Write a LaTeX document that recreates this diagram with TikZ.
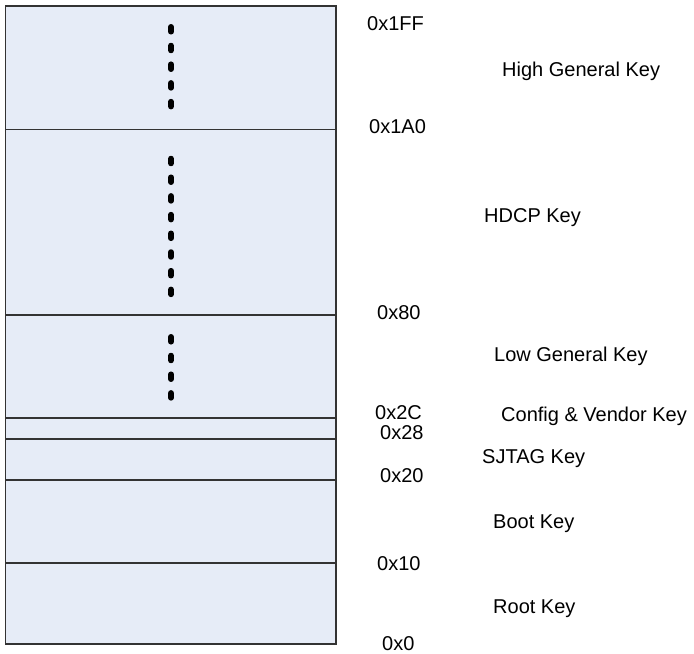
\documentclass[tikz,border=0pt]{standalone}
\usepackage{fontspec}
\setmainfont{Liberation Sans}
\usetikzlibrary{positioning}

\definecolor{regionFill}{HTML}{E6ECF7}
\definecolor{regionLine}{HTML}{333333}

\begin{document}
\begin{tikzpicture}[
  x=1bp, y=-1bp,
  addr/.style={font=\fontsize{20bp}{24bp}\selectfont, anchor=base west, inner sep=0pt},
  keyname/.style={font=\fontsize{20bp}{24bp}\selectfont, anchor=base west, inner sep=0pt},
  region/.style={draw=regionLine, line width=1.3bp, fill=regionFill},
  divider/.style={draw=regionLine, line width=1.3bp},
  dot/.style={fill=black, rounded corners=2.7bp}
]
\useasboundingbox (0,0) rectangle (694,654);

% Column anchors for the memory map.
\def\mapLeft{5.5}
\def\mapRight{336}
\def\dotCol{171}

% -----------------------------------------------------------------------------
% Memory map: one box, split by the key boundaries.
% -----------------------------------------------------------------------------
\draw[region] (\mapLeft,6) rectangle (\mapRight,644);
\foreach \ylev in {129.5,315,418,439,480,563}
  \draw[divider] (\mapLeft,\ylev) -- (\mapRight,\ylev);

% Ellipsis marks inside the large regions (first dot, count).
\foreach \ystart/\ncount in {29.3/5, 161/8, 339.3/4} {
  \pgfmathtruncatemacro{\nlast}{\ncount-1}
  \foreach \i in {0,...,\nlast}
    \fill[dot] ({\dotCol-2.9},{\ystart+18.7*\i-5.2}) rectangle ({\dotCol+2.9},{\ystart+18.7*\i+5.2});
}

% -----------------------------------------------------------------------------
% Addresses at the boundaries.
% -----------------------------------------------------------------------------
\node[addr] (addr1FF) at (367,31) {0x1FF};
\node[addr] (addr1A0) at (369,134) {0x1A0};
\node[addr] (addr80) at (377,319) {0x80};
\node[addr] (addr2C) at (375,419) {0x2C};
\node[addr] (addr28) at (380,439) {0x28};
\node[addr] (addr20) at (380,482.5) {0x20};
\node[addr] (addr10) at (377,570) {0x10};
\node[addr] (addr0) at (382,650) {0x0};

% -----------------------------------------------------------------------------
% Key names for each region.
% -----------------------------------------------------------------------------
\node[keyname] (keyHighGeneral) at (502,77) {High General Key};
\node[keyname] (keyHDCP) at (484,222) {HDCP Key};
\node[keyname] (keyLowGeneral) at (494,361) {Low General Key};
\node[keyname] (keyConfigVendor) at (501,421) {Config \& Vendor Key};
\node[keyname] (keySJTAG) at (482,463) {SJTAG Key};
\node[keyname] (keyBoot) at (493,528) {Boot Key};
\node[keyname] (keyRoot) at (493,613) {Root Key};

\end{tikzpicture}
\end{document}
